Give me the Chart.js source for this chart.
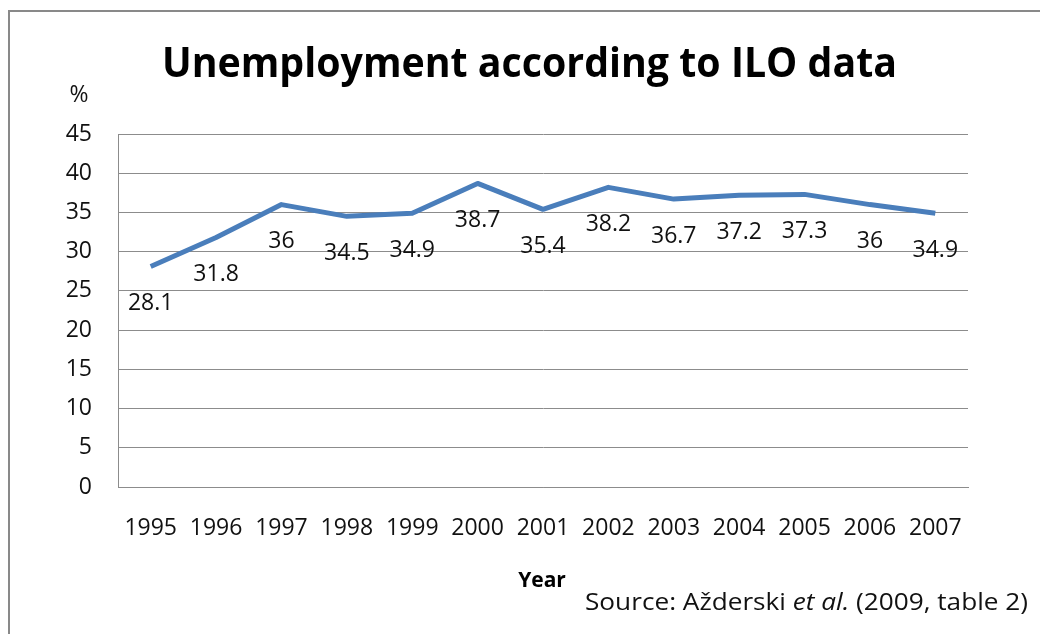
<!DOCTYPE html>
<html><head><meta charset="utf-8">
<script src="https://cdn.jsdelivr.net/npm/chart.js@4/dist/chart.umd.min.js"></script>
<style>html,body{margin:0;padding:0;background:#fff}#wrap{width:1040px;height:634px;position:relative}</style>
</head><body><div id="wrap"><canvas id="c" width="1040" height="634"></canvas></div>
<script>
const categories = ['1995','1996','1997','1998','1999','2000','2001','2002','2003','2004','2005','2006','2007'];
const unemployment = [28.1,31.8,36,34.5,34.9,38.7,35.4,38.2,36.7,37.2,37.3,36,34.9];
const yTicks = [0,5,10,15,20,25,30,35,40,45];
const titleText = 'Unemployment according to ILO data';
const yAxisLabel = '%';
const xAxisLabel = 'Year';
const sourceParts = [['Source: Aždersk' + 'i ','normal'],['et al.','italic'],[' (2009, table 2)','normal']];

const FONT = "'Open Sans', 'DejaVu Sans', sans-serif";
const TXT = '#111';
const GRID = '#8c8c8c';

const decor = {
  id: 'decor',
  beforeDraw(chart) {
    const ctx = chart.ctx;
    ctx.save();
    ctx.fillStyle = '#fff';
    ctx.fillRect(0, 0, chart.width, chart.height);
    ctx.strokeStyle = '#898989';
    ctx.lineWidth = 2;
    ctx.beginPath();
    ctx.moveTo(9, 634); ctx.lineTo(9, 11); ctx.lineTo(1040, 11);
    ctx.stroke();
    ctx.restore();
  },
  afterDraw(chart) {
    const ctx = chart.ctx;
    ctx.save();
    ctx.fillStyle = '#000';
    // title
    ctx.font = 'bold 42px ' + FONT;
    ctx.textBaseline = 'alphabetic';
    ctx.textAlign = 'left';
    const tw = ctx.measureText(titleText).width;
    ctx.save();
    ctx.translate(162, 77);
    ctx.scale(735 / tw, 1);
    ctx.fillText(titleText, 0, 0);
    ctx.restore();
    // % label
    ctx.fillStyle = TXT;
    ctx.font = '23px ' + FONT;
    ctx.textAlign = 'center';
    ctx.textBaseline = 'middle';
    ctx.fillText(yAxisLabel, 79, 95);
    // Year
    ctx.font = 'bold 21px ' + FONT;
    ctx.fillStyle = '#000';
    ctx.fillText(xAxisLabel, 542, 581);
    // source (measured, then fitted to reference width)
    ctx.textAlign = 'left';
    ctx.fillStyle = TXT;
    let total = 0;
    for (const [t, st] of sourceParts) {
      ctx.font = (st === 'italic' ? 'italic ' : '') + '23px ' + FONT;
      total += ctx.measureText(t).width;
    }
    ctx.save();
    ctx.translate(585, 603);
    ctx.scale(443 / total, 1);
    let x = 0;
    for (const [t, st] of sourceParts) {
      ctx.font = (st === 'italic' ? 'italic ' : '') + '23px ' + FONT;
      ctx.fillText(t, x, 0);
      x += ctx.measureText(t).width;
    }
    ctx.restore();
    ctx.restore();
  },
  afterDatasetsDraw(chart) {
    const ctx = chart.ctx;
    const meta = chart.getDatasetMeta(0);
    ctx.save();
    ctx.fillStyle = TXT;
    ctx.font = '23px ' + FONT;
    ctx.textAlign = 'center';
    ctx.textBaseline = 'middle';
    meta.data.forEach((pt, i) => {
      ctx.fillText(String(unemployment[i]), pt.x, pt.y + 37);
    });
    ctx.restore();
  }
};

new Chart(document.getElementById('c'), {
  type: 'line',
  data: {
    labels: categories,
    datasets: [{
      data: unemployment,
      borderColor: '#4a7ebb',
      borderWidth: 5,
      pointRadius: 0,
      pointHoverRadius: 0,
      tension: 0,
      fill: false,
      borderJoinStyle: 'round',
      clip: false
    }]
  },
  options: {
    responsive: false,
    devicePixelRatio: 1,
    animation: false,
    events: [],
    layout: { padding: { top: 134, left: 0, right: 72, bottom: 87 } },
    plugins: { legend: { display: false }, title: { display: false }, tooltip: { enabled: false } },
    scales: {
      x: {
        type: 'category',
        offset: true,
        grid: { display: false, drawTicks: false },
        border: { display: true, color: GRID, width: 1 },
        ticks: { padding: 28, font: { family: FONT, size: 23 }, color: TXT, maxRotation: 0, autoSkip: false },
        afterFit(s) { s.height = 60; }
      },
      y: {
        min: 0, max: 45,
        afterBuildTicks(s) { s.ticks = yTicks.map(v => ({ value: v })); },
        grid: { color: GRID, drawTicks: false, lineWidth: 1 },
        border: { display: true, color: GRID, width: 1 },
        ticks: { padding: 26, font: { family: FONT, size: 23 }, color: TXT },
        afterFit(s) { s.width = 118; }
      }
    }
  },
  plugins: [decor]
});
</script>
</body></html>
